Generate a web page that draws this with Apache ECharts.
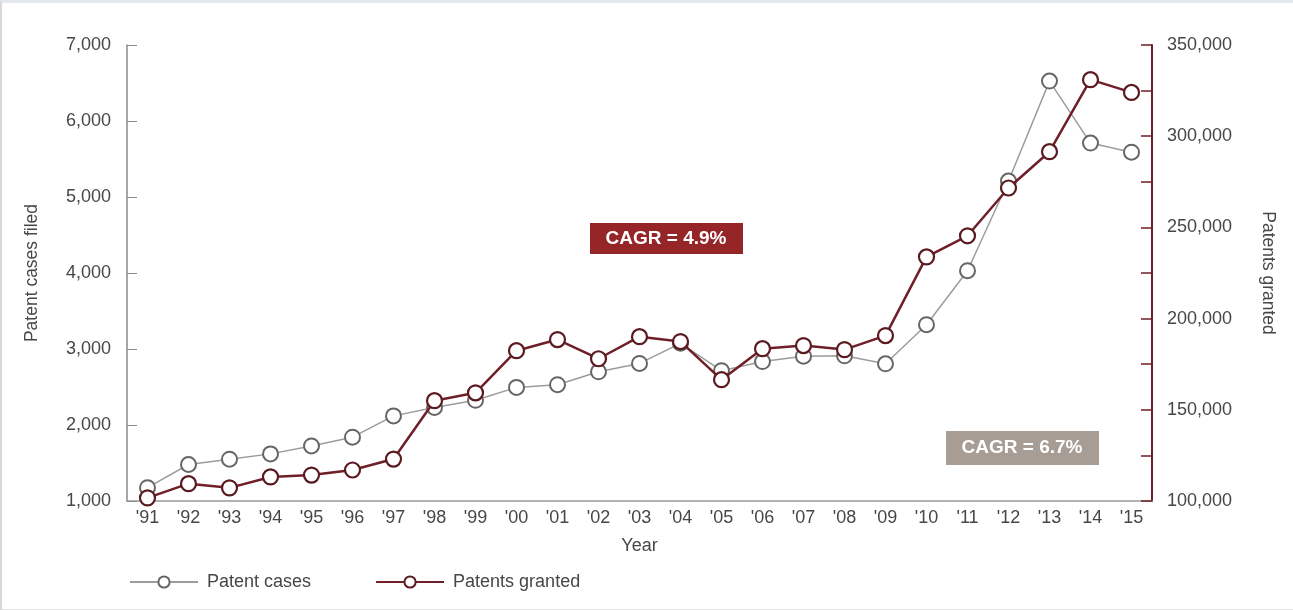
<!DOCTYPE html>
<html>
<head>
<meta charset="utf-8">
<script src="https://cdn.jsdelivr.net/npm/echarts@6/dist/echarts.min.js"></script>
<style>
    html, body { margin: 0; padding: 0; background: #fff; }
    #frame { width: 1291px; height: 606px; border-left: 2px solid #d8d8d8; border-top: 3px solid #e4e8ee; border-bottom: 1px solid #e0e0e0; }
    #chart { width: 1291px; height: 606px; }
</style>
</head>
<body>
<div id="frame"><div id="chart"></div></div>
<script>
// 年份
var years = ["'91", "'92", "'93", "'94", "'95", "'96", "'97", "'98", "'99", "'00", "'01", "'02", "'03",
    "'04", "'05", "'06", "'07", "'08", "'09", "'10", "'11", "'12", "'13", "'14", "'15"];

// 专利诉讼案件数 (左轴)
var patentCases = [1175, 1480, 1550, 1620, 1725, 1840, 2120, 2230, 2325, 2495, 2530, 2700, 2810,
    3075, 2715, 2835, 2905, 2910, 2805, 3320, 4030, 5210, 6525, 5710, 5590];

// 授权专利数 (右轴)
var patentsGranted = [101700, 109500, 107200, 113200, 114200, 117000, 123000, 155000, 159300, 182400,
    188500, 178000, 190100, 187400, 166500, 183500, 185200, 183000, 190700, 233800,
    245400, 271600, 291500, 331000, 324000];

var cagrLabels = ['CAGR = 4.9%', 'CAGR = 6.7%'];

var font = '"Helvetica Neue", Arial, "Liberation Sans", sans-serif';
var textGray = '#474747';
var red = '#6e1f27';
var fs = 18; // 横向文字字号

function fmt(v) {
    return v.toLocaleString('en-US');
}

var myChart = echarts.init(document.getElementById('chart'));

var option = {
    animation: false,
    textStyle: { fontFamily: font },
    grid: {
        left: 125,
        right: 141,
        top: 42,
        bottom: 108
    },
    legend: {
        left: 122,
        top: 565,
        itemWidth: 68,
        itemHeight: 14,
        itemGap: 64,
        textStyle: { fontSize: fs, color: textGray, fontFamily: font, padding: [0, 0, 0, 4] },
        data: ['Patent cases', 'Patents granted']
    },
    xAxis: {
        type: 'category',
        data: years,
        boundaryGap: true,
        name: 'Year',
        nameLocation: 'middle',
        nameGap: 36,
        nameTextStyle: { fontSize: fs, color: textGray },
        axisLine: { lineStyle: { color: '#9a9a9a', width: 1.5 } },
        axisTick: { inside: true, length: 9, lineStyle: { color: '#9a9a9a' } },
        axisLabel: { fontSize: fs, color: textGray, margin: 8 }
    },
    yAxis: [{
            type: 'value',
            min: 1000,
            max: 7000,
            interval: 1000,
            name: 'Patent cases filed',
            nameLocation: 'middle',
            nameGap: 86,
            nameTextStyle: { fontSize: 17.5, color: textGray },
            splitLine: { show: false },
            axisLine: { show: true, lineStyle: { color: '#8a8a8a', width: 1.5 } },
            axisTick: { show: true, inside: true, length: 10, lineStyle: { color: '#8a8a8a' } },
            axisLabel: { fontSize: fs, color: textGray, margin: 16, formatter: fmt }
        },
        {
            type: 'value',
            min: 100000,
            max: 350000,
            interval: 25000,
            position: 'right',
            name: 'Patents granted',
            nameLocation: 'middle',
            nameGap: 107,
            nameRotate: -90,
            nameTextStyle: { fontSize: 17.5, color: textGray },
            splitLine: { show: false },
            axisLine: { show: true, lineStyle: { color: red, width: 2 } },
            axisTick: { show: true, inside: true, length: 11, lineStyle: { color: red, width: 1.5 } },
            axisLabel: {
                fontSize: fs,
                color: textGray,
                margin: 15,
                formatter: function(v) {
                    return v % 50000 === 0 ? fmt(v) : '';
                }
            }
        }
    ],
    series: [{
            name: 'Patent cases',
            type: 'line',
            yAxisIndex: 0,
            data: patentCases,
            symbol: 'circle',
            symbolSize: 15,
            lineStyle: { color: '#9c9c9c', width: 1.5 },
            itemStyle: { color: '#ffffff', borderColor: '#666666', borderWidth: 2 },
            z: 2
        },
        {
            name: 'Patents granted',
            type: 'line',
            yAxisIndex: 1,
            data: patentsGranted,
            symbol: 'circle',
            symbolSize: 15,
            lineStyle: { color: red, width: 2.5 },
            itemStyle: { color: '#ffffff', borderColor: '#5a1a20', borderWidth: 2.2 },
            z: 3
        }
    ],
    graphic: [{
            type: 'group',
            left: 588,
            top: 220,
            children: [{
                type: 'rect',
                shape: { x: 0, y: 0, width: 153, height: 31 },
                style: { fill: '#962528' }
            }, {
                type: 'text',
                x: 76,
                y: 16,
                style: { text: cagrLabels[0], fill: '#fff', font: 'bold 19px ' + font, align: 'center', verticalAlign: 'middle' }
            }]
        },
        {
            type: 'group',
            left: 944,
            top: 428,
            children: [{
                type: 'rect',
                shape: { x: 0, y: 0, width: 153, height: 34 },
                style: { fill: '#a79d95' }
            }, {
                type: 'text',
                x: 76,
                y: 17,
                style: { text: cagrLabels[1], fill: '#fff', font: 'bold 19px ' + font, align: 'center', verticalAlign: 'middle' }
            }]
        }
    ]
};

myChart.setOption(option);
</script>
</body>
</html>
